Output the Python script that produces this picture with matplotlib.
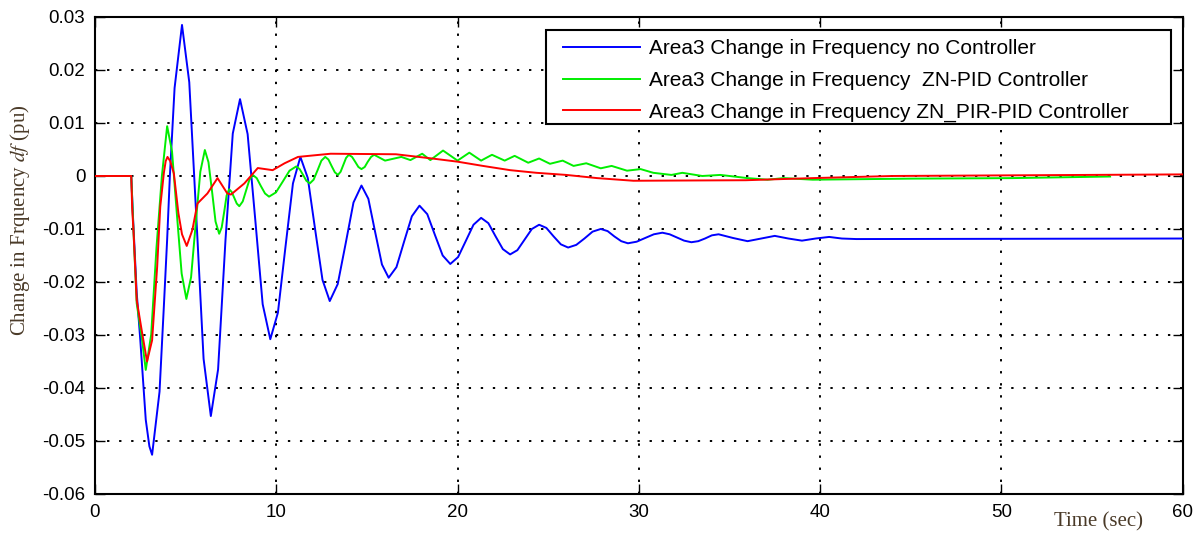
import matplotlib
matplotlib.use("Agg")
import matplotlib.pyplot as plt
from matplotlib.patches import Rectangle

# time / value points
t_blue = [0, 2.0, 2.1, 2.3, 2.5, 2.8, 3.0, 3.15, 3.56, 3.8, 3.98, 4.13, 4.39, 4.8,
          5.2, 5.6, 5.99, 6.39, 6.79, 7.2, 7.6, 8.0, 8.42, 8.84, 9.25, 9.67,
          10.09, 10.5, 10.92, 11.33, 11.74, 12.14, 12.55, 12.95, 13.39, 13.83, 14.26, 14.7,
          15.08, 15.45, 15.83, 16.2, 16.63, 17.05, 17.48, 17.9, 18.33, 18.75, 19.18, 19.6,
          20.03, 20.45, 20.88, 21.3, 21.7, 22.1, 22.5, 22.9, 23.3, 23.7, 24.1, 24.5,
          24.9, 25.3, 25.7, 26.1, 26.55, 27.0, 27.45, 27.9, 28.28, 28.65, 29.03, 29.4,
          29.88, 30.35, 30.83, 31.3, 31.7, 32.1, 32.5, 32.9, 33.28, 33.65, 34.03, 34.4,
          35.2, 36.0, 36.75, 37.5, 38.25, 39.0, 39.75, 40.5, 41.2, 42.0, 60]
v_blue = [0, 0, -0.008, -0.022, -0.031, -0.046, -0.051, -0.0526, -0.0407, -0.0245, -0.012,
          0.0, 0.0166, 0.0285,
          0.0177, -0.0084, -0.0345, -0.0453, -0.0365, -0.012, 0.008, 0.0145,
          0.0079, -0.0082, -0.0242, -0.0308,
          -0.0258, -0.0136, -0.0014, 0.0036, -0.0004, -0.0100, -0.0196, -0.0236,
          -0.0204, -0.0127, -0.0050, -0.0018,
          -0.0043, -0.0105, -0.0167, -0.0192, -0.0172, -0.0124, -0.0076, -0.0056,
          -0.0072, -0.0111, -0.0150, -0.0166,
          -0.0153, -0.0123, -0.0092, -0.0079, -0.0089, -0.0114, -0.0138, -0.0148,
          -0.0140, -0.0120, -0.0100, -0.0092,
          -0.0098, -0.0114, -0.0129, -0.0135, -0.0130, -0.0118, -0.0105, -0.0100,
          -0.0104, -0.0114, -0.0123, -0.0127,
          -0.0124, -0.0117, -0.0110, -0.0107, -0.0110, -0.0116, -0.0122, -0.0125,
          -0.0123, -0.0118, -0.0112, -0.0110,
          -0.0117, -0.0123, -0.0118, -0.0113, -0.0118, -0.0122, -0.0118, -0.0115,
          -0.0118, -0.0119, -0.0118]

t_green = [0, 2.0, 2.13, 2.3, 2.6, 2.8, 3.1, 3.39, 3.69, 3.98, 4.25, 4.51, 4.78, 5.04,
           5.3, 5.55, 5.81, 6.06, 6.26, 6.46, 6.65, 6.85, 6.99, 7.13, 7.26, 7.4,
           7.54, 7.68, 7.82, 7.96, 8.15, 8.33, 8.52, 8.7, 8.92, 9.15, 9.38, 9.6,
           9.98, 10.35, 10.73, 11.1, 11.29, 11.48, 11.66, 11.85, 12.06, 12.28, 12.49, 12.7,
           12.88, 13.05, 13.23, 13.4, 13.55, 13.7, 13.85, 14.0, 14.18, 14.35, 14.53, 14.7,
           14.88, 15.05, 15.23, 15.4, 16.0, 16.9, 17.4, 18.05, 18.5, 19.2, 20.0,
           20.65, 21.3, 21.9, 22.6, 23.15, 23.9, 24.5, 25.1, 25.8, 26.4, 27.1, 27.9, 28.5,
           29.35, 30.1, 30.8, 31.8, 32.4, 33.5, 34.5, 36.0, 37.1, 38.0, 39.6, 45.0, 50.6, 56.0]
v_green = [0, 0, -0.011, -0.024, -0.031, -0.0366, -0.0299, -0.0136, 0.0, 0.0094,
           0.0046, -0.0069, -0.0184, -0.0232,
           -0.0191, -0.0092, 0.0008, 0.0049, 0.0026, -0.0030, -0.0086, -0.0109,
           -0.0097, -0.0067, -0.0037, -0.0025,
           -0.0030, -0.0041, -0.0052, -0.0057, -0.0048, -0.0028, -0.0007, 0.0002,
           -0.0004, -0.0019, -0.0033, -0.0039,
           -0.0031, -0.0011, 0.0010, 0.0018, 0.0013, 0.0002, -0.0009, -0.0014,
           -0.0007, 0.0011, 0.0029, 0.0036,
           0.0031, 0.0019, 0.0007, 0.0002, 0.0008, 0.0021, 0.0034, 0.0040,
           0.0036, 0.0027, 0.0017, 0.0013,
           0.0017, 0.0027, 0.0036, 0.0040, 0.0029, 0.0036, 0.003, 0.0042, 0.003, 0.0048,
           0.0029, 0.0044, 0.0029, 0.0040, 0.0029, 0.0038, 0.0025, 0.0033, 0.0023,
           0.0029, 0.0019, 0.0024, 0.00145, 0.0019, 0.001, 0.0013, 0.0006, 0.0002, 0.0006,
           0.0, 0.0002, -0.0004, -0.0007, -0.0004, -0.0007, -0.0005, -0.0004, -0.0001]

t_red = [0, 2.0, 2.05, 2.13, 2.3, 2.6, 2.87, 3.15, 3.43, 3.6, 3.8, 3.9, 4.0, 4.15, 4.35,
         4.6, 4.8, 5.06, 5.37, 5.65, 6.2, 6.76, 7.3, 7.5, 8.24, 8.98, 9.8, 10.46, 11.2,
         13.0, 16.6, 18.6, 20.0, 21.4, 22.9, 24.35, 26.0, 27.7, 29.7, 35.9, 39.6, 44.0, 60]
v_red = [0, 0, -0.006, -0.0108, -0.0234, -0.0296, -0.035, -0.031, -0.0171, -0.0058,
         0.0006, 0.0028, 0.0036, 0.0028, 0.0005, -0.0070, -0.0110, -0.0132, -0.0102,
         -0.0052, -0.0033, -0.0004, -0.0033, -0.0035, -0.0014, 0.0015, 0.0011, 0.0024,
         0.0036, 0.0042, 0.0041, 0.0033, 0.0027, 0.0019, 0.0011, 0.0006, 0.0002, -0.0004,
         -0.0009, -0.0008, -0.0004, 0.0, 0.0003]

labels = ["Area3 Change in Frequency no Controller",
          "Area3 Change in Frequency  ZN-PID Controller",
          "Area3 Change in Frequency ZN_PIR-PID Controller"]

xticks = [0, 10, 20, 30, 40, 50, 60]
yticks = [-0.06, -0.05, -0.04, -0.03, -0.02, -0.01, 0, 0.01, 0.02, 0.03]
yticklabels = ["-0.06", "-0.05", "-0.04", "-0.03", "-0.02", "-0.01", "0", "0.01", "0.02", "0.03"]

plt.rcParams['font.family'] = ['Liberation Sans', 'DejaVu Sans']

fig = plt.figure(figsize=(12.01, 5.36), dpi=100)
ax = fig.add_axes([0.0791, 0.0784, 0.9056, 0.8899])

ax.plot(t_blue, v_blue, color='#0000ff', lw=1.4, label=labels[0], zorder=3)
ax.plot(t_green, v_green, color='#00ee00', lw=1.4, label=labels[1], zorder=4)
ax.plot(t_red, v_red, color='#ff0000', lw=1.4, label=labels[2], zorder=5)

ax.set_xlim(0, 60)
ax.set_ylim(-0.06, 0.03)
ax.set_xticks(xticks)
ax.set_yticks(yticks)
ax.set_yticklabels(yticklabels)
ax.tick_params(direction='in', length=7, width=1, top=True, right=True,
               labelsize=13.5, pad=7, colors='black')
ax.grid(True, color='black', linestyle=(0, (1.2, 5)), linewidth=1.4)
for s in ax.spines.values():
    s.set_linewidth(1.5)

# legend box drawn separately (MATLAB style wide padding)
box = Rectangle((0.4149, 0.7757), 0.989 - 0.4149, 0.9727 - 0.7757, transform=ax.transAxes,
                facecolor='white', edgecolor='black', lw=1.5, zorder=6)
ax.add_patch(box)
leg = ax.legend(loc='upper left', bbox_to_anchor=(0.4305, 0.953), borderaxespad=0,
                frameon=False, fontsize=15, handlelength=3.7,
                handletextpad=0.4, labelspacing=0.6, borderpad=0)
leg.set_zorder(7)

fig.text(20 / 1201, 1 - 220 / 536, "Change in Frquency $df$ (pu)", rotation=90,
         ha='center', va='center', fontsize=15, color='#4a3a28',
         family=['Liberation Serif'], math_fontfamily='stix')
fig.text(1098 / 1201, 1 - 522 / 536, "Time (sec)", ha='center', va='center',
         fontsize=15, color='#4a3a28', family=['Liberation Serif'])

plt.savefig("out.png", dpi=100)
